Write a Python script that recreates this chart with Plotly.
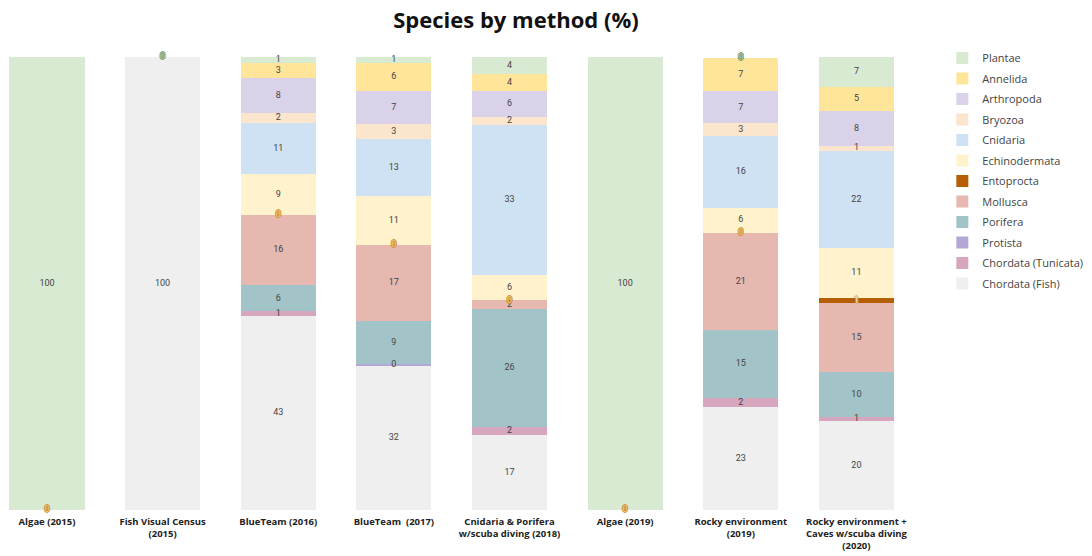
import plotly.graph_objects as go

categories = [
    "Algae (2015)",
    "Fish Visual Census<br>(2015)",
    "BlueTeam (2016)",
    "BlueTeam  (2017)",
    "Cnidaria & Porifera<br>w/scuba diving (2018)",
    "Algae (2019)",
    "Rocky environment<br>(2019)",
    "Rocky environment +<br>Caves w/scuba diving<br>(2020)",
]

# stacked bottom -> top (None = not present, 0 = present with 0 %)
fish       = [None, 100, 42.8, 31.9, 16.6, None, 22.7, 19.6]
tunicata   = [None, None, 1.1, None, 1.8, None, 2.0, 1.0]
protista   = [None, None, None, 0.45, None, None, None, None]
porifera   = [None, None, 5.7, 9.4, 26.0, None, 15.1, 9.9]
mollusca   = [None, None, 15.6, 16.8, 1.9, None, 21.4, 15.3]
entoprocta = [0, None, 0, 0, 0, 0, 0, 1.0]
echino     = [None, None, 9.0, 10.7, 5.6, None, 5.6, 11.0]
cnidaria   = [None, None, 11.2, 12.6, 33.2, None, 15.7, 21.6]
bryozoa    = [None, None, 2.3, 3.3, 1.8, None, 2.9, 1.1]
arthropoda = [None, None, 7.7, 7.4, 5.6, None, 7.1, 7.6]
annelida   = [None, None, 3.4, 6.2, 3.7, None, 7.4, 5.3]
plantae    = [100, 0, 1.2, 1.2, 3.8, 100, 0, 6.6]

series = [
    ("Chordata (Fish)", fish, "#efefef"),
    ("Chordata (Tunicata)", tunicata, "#d5a6bd"),
    ("Protista", protista, "#b4a7d6"),
    ("Porifera", porifera, "#a2c4c9"),
    ("Mollusca", mollusca, "#e6b8af"),
    ("Entoprocta", entoprocta, "#b45f06"),
    ("Echinodermata", echino, "#fff2cc"),
    ("Cnidaria", cnidaria, "#cfe2f3"),
    ("Bryozoa", bryozoa, "#fce5cd"),
    ("Arthropoda", arthropoda, "#d9d2e9"),
    ("Annelida", annelida, "#ffe599"),
    ("Plantae", plantae, "#d9ead3"),
]

def outline(c):
    return f"1px 0 0 {c}, -1px 0 0 {c}, 0 1px 0 {c}, 0 -1px 0 {c}"

fig = go.Figure()
base = [0.0] * len(categories)
normal_lbl = ([], [], [])      # x, y, text
light_lbl = ([], [], [])
zero_lbl = {"Entoprocta": ([], []), "Plantae": ([], [])}
for k, (name, vals, color) in enumerate(series):
    fig.add_trace(go.Bar(
        x=categories, y=[0 if v is None else v for v in vals], name=name,
        marker=dict(color=color, line=dict(width=0)),
        legendgroup=name, legendrank=1000 - k, hoverinfo="skip",
    ))
    for i, v in enumerate(vals):
        if v is None:
            continue
        if v == 0:
            zero_lbl[name][0].append(categories[i])
            zero_lbl[name][1].append(base[i])
        else:
            tgt = light_lbl if name == "Entoprocta" else normal_lbl
            tgt[0].append(categories[i])
            tgt[1].append(base[i] + v / 2)
            tgt[2].append(f"{v:.0f}")
        base[i] += v

fig.add_trace(go.Scatter(
    x=normal_lbl[0], y=normal_lbl[1], text=normal_lbl[2], mode="text",
    textposition="middle center", textfont=dict(size=9, color="#444444", family="Roboto"),
    showlegend=False, hoverinfo="skip", cliponaxis=False,
))
fig.add_trace(go.Scatter(
    x=light_lbl[0], y=light_lbl[1], text=light_lbl[2], mode="text",
    textposition="middle center",
    textfont=dict(size=9, color="#fbe3c4", family="Roboto", shadow=outline("#d8a25a")),
    showlegend=False, hoverinfo="skip", cliponaxis=False,
))
zero_styles = {"Entoprocta": ("#f3cf7a", "#c98420"), "Plantae": ("#b3cfa6", "#6a8c5c")}
for name, (xs, ys) in zero_lbl.items():
    fill, edge = zero_styles[name]
    fig.add_trace(go.Scatter(
        x=xs, y=ys, text=["0"] * len(xs), mode="text", textposition="middle center",
        textfont=dict(size=9, color=fill, family="Roboto", shadow=outline(edge)),
        showlegend=False, hoverinfo="skip", cliponaxis=False,
    ))

fig.update_layout(
    width=1084, height=548,
    barmode="stack", bargap=0.35,
    plot_bgcolor="white", paper_bgcolor="white",
    margin=dict(l=0, r=194.5, t=49, b=46, autoexpand=False),
    title=dict(text="<b>Species by method (%)</b>", x=0.4686, xref="container",
               xanchor="center", y=0.978, yanchor="middle",
               font=dict(size=22, family="Open Sans", color="#111111")),
    xaxis=dict(range=[-0.337, 7.351], showgrid=False, zeroline=False, showline=False,
               ticks="", ticklabelstandoff=4,
               tickfont=dict(size=9.5, family="Open Sans", color="#222222", weight="bold")),
    yaxis=dict(range=[0, 100.05], visible=False),
    legend=dict(x=1.051, xanchor="left", y=1.03, yanchor="top",
                traceorder="grouped", tracegroupgap=1.5,
                font=dict(size=11, family="Open Sans", color="#444444"),
                itemwidth=30),
    showlegend=True,
)
fig.write_html("out.html")
